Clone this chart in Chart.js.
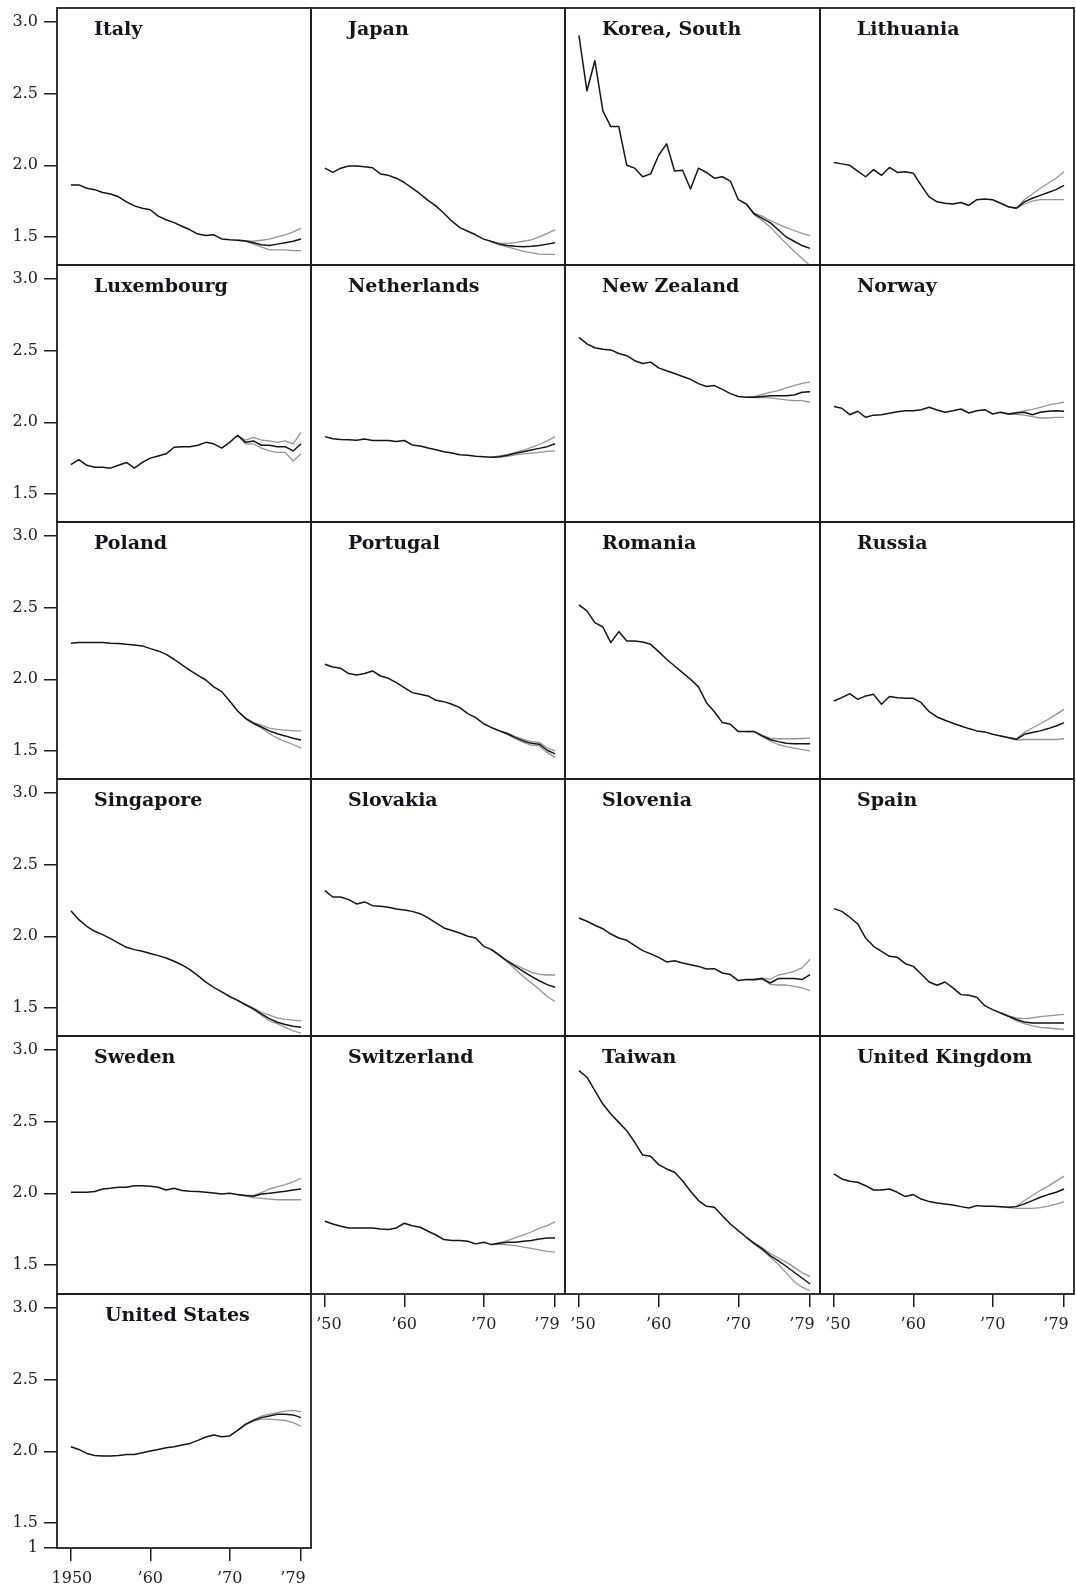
<!DOCTYPE html>
<html><head><meta charset="utf-8">
<script src="https://cdn.jsdelivr.net/npm/chart.js@4.4.1/dist/chart.umd.min.js"></script>
<style>
html,body{margin:0;padding:0;background:#fff;}
body{width:1076px;height:1591px;position:relative;overflow:hidden;}
canvas.pc{position:absolute;}
.ttl{position:absolute;font-family:'DejaVu Serif',serif;font-weight:bold;font-size:19px;color:#14141e;white-space:nowrap;line-height:19px;}
</style></head><body>
<script>
// ---------- DATA ----------
const years = [1950,1951,1952,1953,1954,1955,1956,1957,1958,1959,1960,1961,1962,1963,1964,1965,1966,1967,1968,1969,1970,1971,1972,1973,1974,1975,1976,1977,1978,1979];
const fanYears = [1972,1973,1974,1975,1976,1977,1978,1979];
const countries = ['Italy','Japan','Korea, South','Lithuania','Luxembourg','Netherlands','New Zealand','Norway','Poland','Portugal','Romania','Russia','Singapore','Slovakia','Slovenia','Spain','Sweden','Switzerland','Taiwan','United Kingdom','United States'];

const italy = [1.863,1.863,1.84,1.83,1.81,1.80,1.78,1.745,1.717,1.70,1.69,1.645,1.62,1.60,1.575,1.55,1.52,1.51,1.515,1.486,1.48,1.477,1.472,1.46,1.446,1.44,1.45,1.46,1.47,1.486];
const italyHigh = [1.475,1.47,1.477,1.485,1.50,1.515,1.535,1.56];
const italyLow = [1.47,1.45,1.43,1.41,1.41,1.41,1.405,1.405];

const japan = [1.98,1.95,1.98,1.995,1.995,1.99,1.983,1.94,1.93,1.91,1.88,1.84,1.80,1.755,1.715,1.665,1.61,1.565,1.54,1.515,1.485,1.468,1.45,1.44,1.435,1.432,1.435,1.44,1.45,1.46];
const japanHigh = [1.455,1.455,1.46,1.47,1.48,1.50,1.525,1.55];
const japanLow = [1.445,1.43,1.415,1.40,1.39,1.38,1.378,1.378];

const korea = [2.906,2.52,2.73,2.38,2.27,2.27,2.00,1.98,1.92,1.94,2.07,2.15,1.96,1.965,1.835,1.98,1.95,1.91,1.92,1.89,1.76,1.73,1.66,1.63,1.60,1.55,1.50,1.47,1.44,1.42];
const koreaHigh = [1.665,1.645,1.615,1.59,1.565,1.545,1.525,1.51];
const koreaLow = [1.655,1.615,1.57,1.51,1.455,1.40,1.35,1.30];

const lithuania = [2.02,2.01,2.00,1.96,1.92,1.97,1.93,1.985,1.95,1.955,1.945,1.86,1.78,1.745,1.735,1.73,1.74,1.72,1.76,1.765,1.76,1.735,1.71,1.70,1.745,1.77,1.79,1.81,1.83,1.86];
const lithuaniaHigh = [1.71,1.70,1.76,1.80,1.84,1.875,1.91,1.955];
const lithuaniaLow = [1.71,1.70,1.73,1.75,1.76,1.76,1.76,1.76];

const luxembourg = [1.705,1.74,1.70,1.686,1.686,1.68,1.70,1.72,1.68,1.72,1.75,1.765,1.78,1.826,1.83,1.83,1.84,1.86,1.85,1.82,1.86,1.91,1.86,1.87,1.84,1.84,1.83,1.83,1.80,1.85];
const luxembourgHigh = [1.875,1.895,1.875,1.87,1.86,1.87,1.85,1.93];
const luxembourgLow = [1.85,1.85,1.82,1.80,1.79,1.79,1.73,1.78];

const netherlands = [1.90,1.885,1.88,1.878,1.875,1.884,1.873,1.873,1.873,1.866,1.873,1.842,1.835,1.82,1.808,1.795,1.785,1.774,1.77,1.763,1.76,1.756,1.76,1.77,1.784,1.795,1.807,1.818,1.83,1.85];
const netherlandsHigh = [1.765,1.775,1.79,1.805,1.825,1.845,1.87,1.90];
const netherlandsLow = [1.757,1.762,1.772,1.78,1.785,1.79,1.797,1.80];

const newZealand = [2.593,2.547,2.52,2.51,2.505,2.48,2.465,2.43,2.41,2.42,2.38,2.36,2.34,2.32,2.30,2.27,2.25,2.256,2.23,2.20,2.18,2.174,2.174,2.18,2.186,2.186,2.186,2.19,2.21,2.214];
const newZealandHigh = [2.18,2.195,2.209,2.221,2.24,2.256,2.272,2.28];
const newZealandLow = [2.172,2.172,2.17,2.163,2.156,2.151,2.151,2.14];

const norway = [2.11,2.098,2.053,2.077,2.035,2.05,2.053,2.063,2.074,2.08,2.08,2.088,2.105,2.086,2.07,2.08,2.093,2.065,2.08,2.088,2.058,2.07,2.058,2.065,2.07,2.053,2.07,2.077,2.08,2.077];
const norwayHigh = [2.06,2.07,2.08,2.09,2.105,2.12,2.13,2.14];
const norwayLow = [2.055,2.055,2.05,2.04,2.03,2.03,2.035,2.035];

const poland = [2.251,2.256,2.256,2.256,2.256,2.251,2.25,2.244,2.24,2.233,2.214,2.198,2.174,2.14,2.10,2.063,2.028,1.995,1.947,1.914,1.849,1.779,1.728,1.693,1.667,1.64,1.62,1.605,1.588,1.577];
const polandHigh = [1.73,1.70,1.68,1.66,1.65,1.645,1.64,1.64];
const polandLow = [1.725,1.69,1.66,1.62,1.59,1.565,1.545,1.52];

const portugal = [2.105,2.086,2.077,2.04,2.03,2.04,2.058,2.023,2.007,1.977,1.942,1.907,1.895,1.884,1.853,1.844,1.826,1.802,1.76,1.733,1.69,1.663,1.64,1.62,1.593,1.57,1.553,1.547,1.505,1.48];
const portugalHigh = [1.64,1.625,1.60,1.58,1.565,1.56,1.52,1.50];
const portugalLow = [1.64,1.615,1.585,1.56,1.54,1.535,1.49,1.455];

const romania = [2.519,2.477,2.395,2.365,2.256,2.333,2.267,2.267,2.26,2.244,2.193,2.14,2.093,2.047,2.0,1.947,1.837,1.774,1.698,1.686,1.635,1.635,1.635,1.605,1.58,1.565,1.553,1.551,1.551,1.551];
const romaniaHigh = [1.635,1.61,1.59,1.585,1.585,1.585,1.587,1.59];
const romaniaLow = [1.635,1.60,1.57,1.545,1.53,1.52,1.51,1.50];

const russia = [1.849,1.872,1.90,1.86,1.884,1.895,1.826,1.88,1.872,1.867,1.867,1.837,1.774,1.737,1.714,1.693,1.674,1.656,1.64,1.633,1.616,1.605,1.593,1.581,1.616,1.628,1.64,1.656,1.674,1.698];
const russiaHigh = [1.595,1.585,1.63,1.66,1.69,1.72,1.755,1.79];
const russiaLow = [1.59,1.575,1.58,1.58,1.58,1.58,1.58,1.585];

const singapore = [2.179,2.116,2.07,2.035,2.012,1.984,1.953,1.923,1.907,1.895,1.88,1.865,1.849,1.826,1.80,1.767,1.726,1.68,1.644,1.612,1.58,1.553,1.523,1.493,1.458,1.426,1.40,1.384,1.372,1.365];
const singaporeHigh = [1.525,1.50,1.47,1.45,1.43,1.42,1.415,1.41];
const singaporeLow = [1.52,1.49,1.45,1.41,1.39,1.365,1.34,1.325];

const slovakia = [2.319,2.274,2.274,2.256,2.226,2.24,2.214,2.209,2.202,2.19,2.184,2.174,2.158,2.128,2.093,2.058,2.04,2.023,2.0,1.988,1.93,1.907,1.867,1.826,1.79,1.756,1.72,1.69,1.663,1.644];
const slovakiaHigh = [1.87,1.83,1.80,1.775,1.75,1.735,1.73,1.73];
const slovakiaLow = [1.865,1.82,1.77,1.72,1.675,1.63,1.58,1.545];

const slovenia = [2.128,2.105,2.077,2.053,2.016,1.988,1.972,1.935,1.90,1.877,1.853,1.821,1.83,1.814,1.802,1.79,1.772,1.774,1.744,1.733,1.691,1.698,1.698,1.705,1.674,1.705,1.705,1.705,1.698,1.733];
const sloveniaHigh = [1.70,1.71,1.70,1.73,1.74,1.755,1.78,1.84];
const sloveniaLow = [1.695,1.70,1.665,1.66,1.66,1.65,1.64,1.62];

const spain = [2.193,2.174,2.133,2.086,1.988,1.93,1.895,1.86,1.853,1.809,1.79,1.737,1.681,1.658,1.681,1.64,1.593,1.588,1.574,1.516,1.488,1.465,1.442,1.419,1.402,1.395,1.395,1.395,1.395,1.395];
const spainHigh = [1.445,1.43,1.425,1.43,1.44,1.445,1.45,1.455];
const spainLow = [1.44,1.41,1.39,1.375,1.365,1.36,1.355,1.35];

const sweden = [2.007,2.007,2.007,2.012,2.03,2.035,2.042,2.042,2.053,2.053,2.049,2.042,2.023,2.035,2.019,2.014,2.012,2.007,2.002,1.995,2.0,1.991,1.984,1.979,1.995,2.0,2.007,2.014,2.023,2.03];
const swedenHigh = [1.985,1.985,2.005,2.03,2.045,2.06,2.08,2.105];
const swedenLow = [1.98,1.97,1.965,1.96,1.955,1.955,1.955,1.955];

const switzerland = [1.805,1.786,1.77,1.758,1.758,1.758,1.758,1.751,1.747,1.758,1.791,1.774,1.763,1.735,1.709,1.677,1.67,1.67,1.665,1.647,1.658,1.642,1.651,1.658,1.658,1.665,1.67,1.681,1.688,1.688];
const switzerlandHigh = [1.655,1.67,1.69,1.71,1.73,1.755,1.775,1.80];
const switzerlandLow = [1.645,1.64,1.635,1.625,1.615,1.605,1.595,1.59];

const taiwan = [2.856,2.81,2.716,2.623,2.553,2.495,2.437,2.356,2.267,2.258,2.20,2.17,2.147,2.088,2.014,1.949,1.909,1.902,1.844,1.786,1.74,1.693,1.651,1.612,1.565,1.53,1.491,1.449,1.409,1.367];
const taiwanHigh = [1.655,1.62,1.58,1.55,1.52,1.485,1.445,1.42];
const taiwanLow = [1.645,1.605,1.555,1.505,1.445,1.385,1.345,1.32];

const unitedKingdom = [2.135,2.10,2.084,2.077,2.053,2.023,2.023,2.03,2.007,1.977,1.991,1.96,1.942,1.933,1.926,1.919,1.907,1.898,1.914,1.909,1.909,1.907,1.902,1.907,1.926,1.949,1.972,1.991,2.007,2.03];
const unitedKingdomHigh = [1.90,1.91,1.95,1.985,2.02,2.05,2.085,2.12];
const unitedKingdomLow = [1.90,1.895,1.895,1.895,1.90,1.91,1.925,1.94];

const unitedStates = [2.032,2.013,1.985,1.971,1.967,1.967,1.971,1.978,1.978,1.99,2.002,2.013,2.025,2.032,2.044,2.055,2.076,2.10,2.114,2.102,2.107,2.146,2.188,2.216,2.235,2.247,2.258,2.258,2.254,2.235];
const unitedStatesHigh = [2.19,2.22,2.245,2.26,2.27,2.28,2.285,2.275];
const unitedStatesLow = [2.185,2.21,2.225,2.225,2.22,2.215,2.20,2.175];

const midSeries = [italy,japan,korea,lithuania,luxembourg,netherlands,newZealand,norway,poland,portugal,romania,russia,singapore,slovakia,slovenia,spain,sweden,switzerland,taiwan,unitedKingdom,unitedStates];
const highSeries = [italyHigh,japanHigh,koreaHigh,lithuaniaHigh,luxembourgHigh,netherlandsHigh,newZealandHigh,norwayHigh,polandHigh,portugalHigh,romaniaHigh,russiaHigh,singaporeHigh,slovakiaHigh,sloveniaHigh,spainHigh,swedenHigh,switzerlandHigh,taiwanHigh,unitedKingdomHigh,unitedStatesHigh];
const lowSeries = [italyLow,japanLow,koreaLow,lithuaniaLow,luxembourgLow,netherlandsLow,newZealandLow,norwayLow,polandLow,portugalLow,romaniaLow,russiaLow,singaporeLow,slovakiaLow,sloveniaLow,spainLow,swedenLow,switzerlandLow,taiwanLow,unitedKingdomLow,unitedStatesLow];

const yTickValues = [1.5, 2.0, 2.5, 3.0];
const xTickValues = [1950, 1960, 1970, 1979];
const xTickLabelsFirst = ['1950', '\u201960', '\u201970', '\u201979'];
const xTickLabelsOther = ['\u201950', '\u201960', '\u201970', '\u201979'];

// ---------- LAYOUT ----------
const X0 = 56.5, COLW = 254.4, Y0 = 7.5, ROWH = 257.2;
const YAXW = 57, XAXH = 46, PAD = 4;
const PX_PER_UNIT = 143.3, TOP_OFFSET = 14;
const FONT = "'DejaVu Serif', serif";

const framePlugin = {
  id: 'frame',
  afterLayout(chart) {
    // the bottom scales take no layout room (it is reserved by padding); give their labels a drawing band
    Object.values(chart.scales).forEach(s => {
      if (s.isHorizontal() && s.options.display) { s.height = XAXH; s.bottom = s.top + XAXH; }
    });
  },
  afterDraw(chart) {
    const {ctx, chartArea: a} = chart;
    ctx.save();
    ctx.strokeStyle = '#1e1e1e';
    ctx.lineWidth = 1.8;
    ctx.strokeRect(a.left, a.top, a.right - a.left, a.bottom - a.top);
    ctx.restore();
  }
};

function fanData(mid, fan) {
  const startIdx = years.indexOf(fanYears[0]) - 1;
  return years.map((yr, i) => {
    if (i < startIdx) return {x: yr, y: null};
    if (i === startIdx) return {x: yr, y: mid[i]};
    return {x: yr, y: fan[fanYears.indexOf(yr)]};
  });
}

const zeroPad = s => { s.paddingLeft = 0; s.paddingRight = 0; s.paddingTop = 0; s.paddingBottom = 0; };

// one bottom scale per group of x ticks so that each group can get its own label offset
function xScale(show, tickIdx, labels, offset) {
  return {
    type: 'linear', position: 'bottom', min: 1948.25, max: 1980.25, display: show,
    afterBuildTicks: s => { s.ticks = tickIdx.map(k => ({value: xTickValues[k]})); },
    afterFit: s => { s.height = 0; zeroPad(s); },
    ticks: {
      autoSkip: false, maxRotation: 0, minRotation: 0, padding: 8, color: '#222', labelOffset: offset,
      font: {family: FONT, size: 16},
      callback: (v) => labels[xTickValues.indexOf(v)]
    },
    grid: {drawOnChartArea: false, drawTicks: true, tickLength: 13, color: '#1e1e1e', lineWidth: 1.5},
    border: {display: false}
  };
}

countries.forEach((name, i) => {
  const r = Math.floor(i / 4), c = i % 4;
  const isLast = i === countries.length - 1;
  const left = Math.round(X0 + c * COLW);
  const right = Math.round(X0 + (c + 1) * COLW);
  const top = Math.round(Y0 + r * ROWH);
  const bottom = isLast ? 1548 : Math.round(Y0 + (r + 1) * ROWH);
  const w = right - left, h = bottom - top;
  const hasY = c === 0;
  const hasX = r === 5 || (r === 4 && c > 0);
  const yMax = 3.0 + TOP_OFFSET / PX_PER_UNIT;
  const yMin = yMax - h / PX_PER_UNIT;
  const xLabels = hasY ? xTickLabelsFirst : xTickLabelsOther;

  const cv = document.createElement('canvas');
  cv.className = 'pc';
  const cl = left - (hasY ? YAXW : PAD);
  const ct = top - PAD;
  const cw = w + (hasY ? YAXW : PAD) + PAD;
  const ch = h + PAD + (hasX ? XAXH : PAD);
  cv.width = cw; cv.height = ch;
  cv.style.left = cl + 'px'; cv.style.top = ct + 'px';
  cv.style.width = cw + 'px'; cv.style.height = ch + 'px';
  document.body.appendChild(cv);

  const ttl = document.createElement('div');
  ttl.className = 'ttl';
  ttl.textContent = name;
  ttl.style.left = (left + (isLast ? 48 : 37)) + 'px';
  ttl.style.top = (top + 11) + 'px';
  document.body.appendChild(ttl);

  const mid = midSeries[i];
  new Chart(cv, {
    type: 'line',
    data: {
      datasets: [
        {data: years.map((yr, k) => ({x: yr, y: mid[k]})), borderColor: '#151515', borderWidth: 1.5, xAxisID: 'x', yAxisID: 'y'},
        {data: fanData(mid, highSeries[i]), borderColor: '#959595', borderWidth: 1.3, xAxisID: 'x', yAxisID: 'y'},
        {data: fanData(mid, lowSeries[i]), borderColor: '#959595', borderWidth: 1.3, xAxisID: 'x', yAxisID: 'y'}
      ]
    },
    options: {
      responsive: false, animation: false, devicePixelRatio: 1,
      layout: {padding: {left: hasY ? 0 : PAD, right: PAD, top: PAD, bottom: hasX ? XAXH : PAD}},
      elements: {point: {radius: 0, hoverRadius: 0}, line: {tension: 0, borderJoinStyle: 'round'}},
      plugins: {legend: {display: false}, tooltip: {enabled: false}, title: {display: false}},
      scales: {
        x: xScale(hasX, [1, 2], xLabels, 0),
        xFirst: xScale(hasX, [0], xLabels, hasY ? 1 : 4),
        xLast: xScale(hasX, [3], xLabels, -8),
        y: {
          type: 'linear', position: 'left', min: yMin, max: yMax, display: hasY,
          afterBuildTicks: s => {
            const t = yTickValues.map(v => ({value: v}));
            if (isLast) t.unshift({value: s.min});
            s.ticks = t;
          },
          afterFit: s => { if (hasY) s.width = YAXW; zeroPad(s); },
          ticks: {
            autoSkip: false, padding: 6, color: '#222',
            font: {family: FONT, size: 16},
            callback: (v) => (Math.abs(v - yMin) < 1e-6 ? '1' : Number(v).toFixed(1))
          },
          grid: {drawOnChartArea: false, drawTicks: true, tickLength: 13, color: '#1e1e1e', lineWidth: 1.5},
          border: {display: false}
        }
      }
    },
    plugins: [framePlugin]
  });
});
</script>
</body></html>
